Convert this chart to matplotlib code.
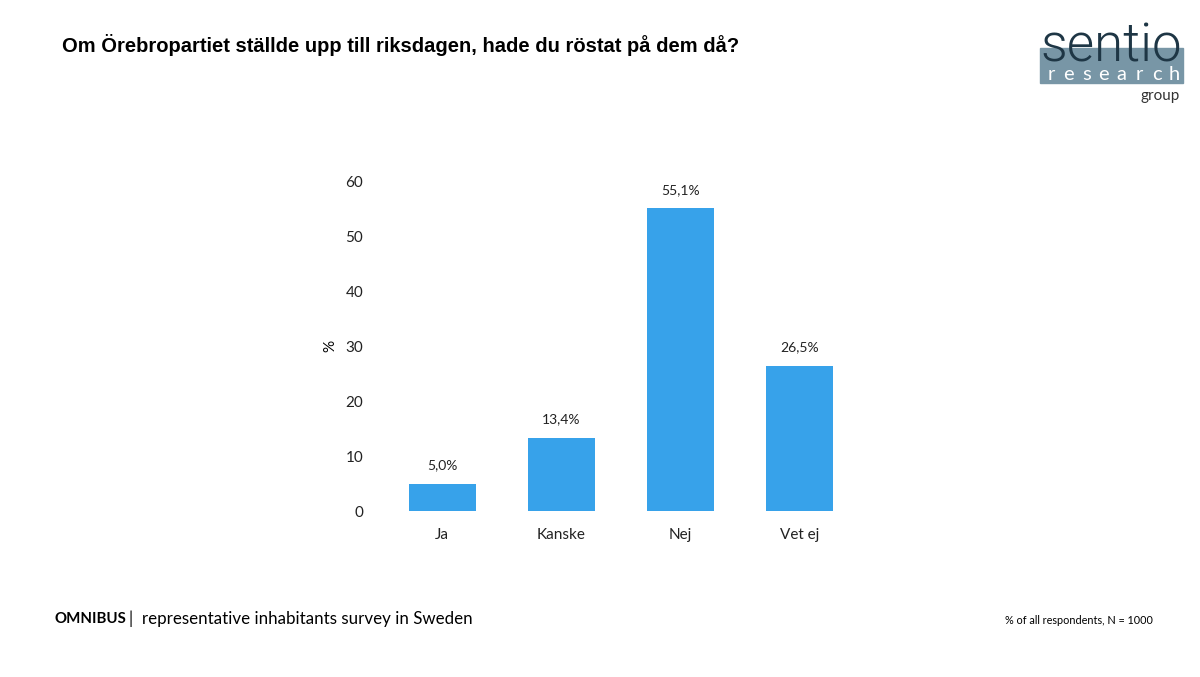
import numpy as np
import matplotlib.pyplot as plt
from matplotlib.patches import Rectangle

categories = ["Ja", "Kanske", "Nej", "Vet ej"]
values = [5.0, 13.4, 55.1, 26.5]
value_labels = ["5,0%", "13,4%", "55,1%", "26,5%"]
yticks = [0, 10, 20, 30, 40, 50, 60]

bar_color = "#37A2EA"
body_font = ["Lato", "DejaVu Sans"]

fig = plt.figure(figsize=(12, 6.77), dpi=100)

# main axes
ax = fig.add_axes([0.319, 0.245, 0.397, 0.487])
x = np.arange(len(categories))
ax.bar(x, values, width=0.56, color=bar_color)
for xi, v, lab in zip(x, values, value_labels):
    ax.text(xi, v + 2.2, lab, ha="center", va="bottom", fontsize=10,
            family=body_font, color="#222222")

ax.set_xlim(-0.5, 3.5)
ax.set_ylim(0, 60)
ax.set_yticks(yticks)
ax.set_xticks(x)
ax.set_xticklabels(categories, family=body_font, fontsize=11)
for t in ax.get_yticklabels():
    t.set_family(body_font)
    t.set_fontsize(11)
ax.tick_params(axis="both", length=0, colors="#222222")
ax.tick_params(axis="y", pad=14)
ax.tick_params(axis="x", pad=12)
for s in ax.spines.values():
    s.set_visible(False)
ax.set_ylabel("%", family=body_font, fontsize=11, labelpad=6)

# title
fig.text(62 / 1200, 1 - 45 / 677, "Om Örebropartiet ställde upp till riksdagen, hade du röstat på dem då?",
         family=["Liberation Sans", "DejaVu Sans"], weight="bold", fontsize=14.5, va="center", ha="left")

# footer
fig.text(55 / 1200, 1 - 619 / 677, "OMNIBUS", family=body_font, weight="bold",
         fontsize=10.8, va="center", ha="left")
fig.text(129 / 1200, 1 - 619 / 677, "|  representative inhabitants survey in Sweden",
         family=body_font, fontsize=12.2, va="center", ha="left")
fig.text(1153 / 1200, 1 - 621 / 677, "% of all respondents, N = 1000",
         family=body_font, fontsize=7.8, va="center", ha="right")

# logo
logo = fig.add_axes([0, 0, 1, 1], zorder=5)
logo.set_xlim(0, 1200)
logo.set_ylim(677, 0)
logo.axis("off")
logo.add_patch(Rectangle((1040, 48), 143, 35, color="#7896A6"))
logo.text(1111, 62, "sentio", family=["Roboto", "DejaVu Sans"], weight=300,
          fontsize=38, color="#1E3645", ha="center", va="baseline")
for i, ch in enumerate("research"):
    logo.text(1051 + i * 17.6, 80, ch, family=body_font, fontsize=14.5,
              color="white", ha="center", va="baseline")
logo.text(1180, 100, "group", family=body_font, fontsize=11,
          color="#333333", ha="right", va="baseline")

fig.savefig("out.png", dpi=100)
